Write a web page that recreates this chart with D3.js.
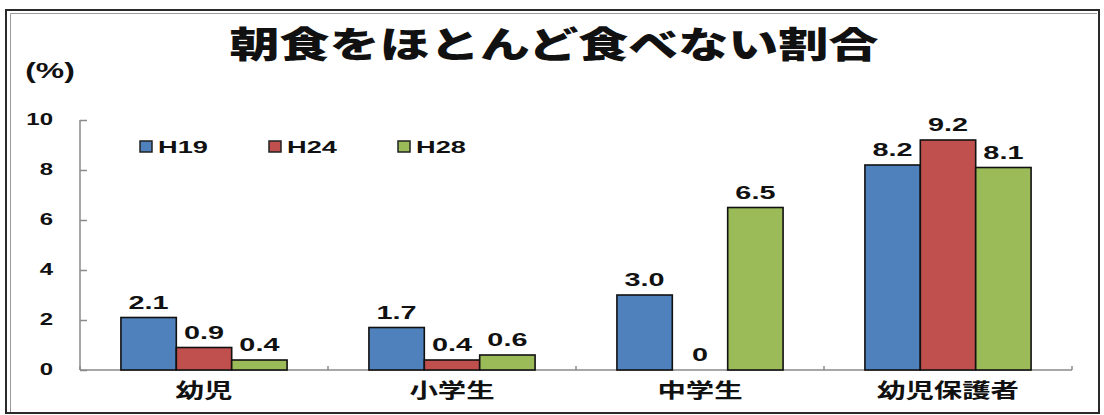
<!DOCTYPE html>
<html>
<head>
<meta charset="utf-8">
<script src="https://cdn.jsdelivr.net/npm/d3@7"></script>
<style>
  html, body { margin: 0; padding: 0; background: #fff; }
  svg { display: block; }
</style>
</head>
<body>
<script>
// Share of people who rarely eat breakfast (%)
const categories = ["幼児", "小学生", "中学生", "幼児保護者"];
const seriesNames = ["H19", "H24", "H28"];
const h19Values = [2.1, 1.7, 3.0, 8.2];
const h24Values = [0.9, 0.4, 0, 9.2];
const h28Values = [0.4, 0.6, 6.5, 8.1];
const yTickValues = [0, 2, 4, 6, 8, 10];
const seriesColors = ["#4F81BD", "#C0504D", "#9BBB59"];

const W = 1104, H = 415;
const svg = d3.select("body").append("svg").attr("width", W).attr("height", H);

const CJK = "'Noto Sans CJK JP', 'Noto Sans CJK SC', sans-serif";
const LATIN = "'Liberation Sans', Arial, sans-serif";

// horizontally widened text, as in the original artwork
function wideText(parent, x, y, str, opts) {
  return parent.append("text")
    .attr("transform", `translate(${x},${y}) scale(${opts.sx || 1.45},1)`)
    .attr("text-anchor", opts.anchor || "middle")
    .attr("font-family", opts.family || LATIN)
    .attr("font-weight", opts.weight || "bold")
    .attr("font-size", opts.size)
    .attr("fill", opts.fill || "#111")
    .attr("dominant-baseline", opts.baseline || "auto")
    .text(str);
}

// frame
svg.append("rect").attr("x", 6).attr("y", 10).attr("width", 1093).attr("height", 403)
  .attr("fill", "none").attr("stroke", "#2a2a2a").attr("stroke-width", 2);
svg.append("path").attr("d", "M10.5,412 V13.5 H1097")
  .attr("fill", "none").attr("stroke", "#9a9a9a").attr("stroke-width", 1);

// scales
const x0 = d3.scaleBand().domain(categories).range([80, 1072]).paddingInner(0.33).paddingOuter(0.165);
const x1 = d3.scaleBand().domain(seriesNames).range([0, x0.bandwidth()]);
const y = d3.scaleLinear().domain([0, 10]).range([370, 120]);

// title and unit
wideText(svg, 554, 58, "朝食をほとんど食べない割合", { size: 36, family: CJK, sx: 1.39, weight: 900 });
wideText(svg, 50, 78, "(%)", { size: 22, sx: 1.45 });

// y axis
const yAxis = svg.append("g").attr("transform", "translate(80,0)")
  .call(d3.axisLeft(y).tickValues(yTickValues).tickSize(-7).tickFormat(""));
yAxis.selectAll("line, path").attr("stroke", "#8a8a8a").attr("stroke-width", 1.5);
yAxis.select(".domain").attr("d", `M0,${y(10)}V${y(0)}`);
yTickValues.forEach(v => {
  wideText(svg, 53, y(v), String(v), { size: 16, anchor: "end", sx: 1.5, baseline: "central" });
});

// x axis
const xAxis = svg.append("g").attr("transform", `translate(0,${y(0)})`);
xAxis.append("line").attr("x1", 80).attr("x2", 1072)
  .attr("stroke", "#8a8a8a").attr("stroke-width", 1.5);
const step = x0.step();
d3.range(categories.length + 1).forEach(i => {
  const xb = x0(categories[0]) - x0.paddingOuter() * step + i * step;
  xAxis.append("line").attr("x1", xb).attr("x2", xb).attr("y1", 0).attr("y2", -4)
    .attr("stroke", "#8a8a8a").attr("stroke-width", 1.5);
});
categories.forEach(c => {
  wideText(svg, x0(c) + x0.bandwidth() / 2, 398, c, { size: 20, family: CJK, sx: 1.42 });
});

// bars
const seriesValues = [h19Values, h24Values, h28Values];
const rows = categories.map((c, ci) => ({
  category: c,
  items: seriesNames.map((s, si) => ({ series: s, index: si, value: seriesValues[si][ci] }))
}));

const groups = svg.append("g").selectAll("g").data(rows).join("g")
  .attr("transform", d => `translate(${x0(d.category)},0)`);

groups.selectAll("rect").data(d => d.items.filter(it => it.value > 0)).join("rect")
  .attr("x", d => x1(d.series))
  .attr("y", d => y(d.value))
  .attr("width", x1.bandwidth())
  .attr("height", d => y(0) - y(d.value))
  .attr("fill", d => seriesColors[d.index])
  .attr("stroke", "#111")
  .attr("stroke-width", 1.6);

// value labels
rows.forEach(r => {
  r.items.forEach(it => {
    const cx = x0(r.category) + x1(it.series) + x1.bandwidth() / 2;
    const label = it.value === 0 ? "0" : it.value.toFixed(1);
    wideText(svg, cx, y(it.value) - 9, label, { size: 18, sx: 1.6 });
  });
});

// legend
const legendX = [140, 269, 398];
seriesNames.forEach((s, i) => {
  svg.append("rect").attr("x", legendX[i]).attr("y", 141).attr("width", 12).attr("height", 11)
    .attr("fill", seriesColors[i]).attr("stroke", "#222").attr("stroke-width", 1.5);
  wideText(svg, legendX[i] + 18, 153, s, { size: 17, anchor: "start", sx: 1.6 });
});
</script>
</body>
</html>
